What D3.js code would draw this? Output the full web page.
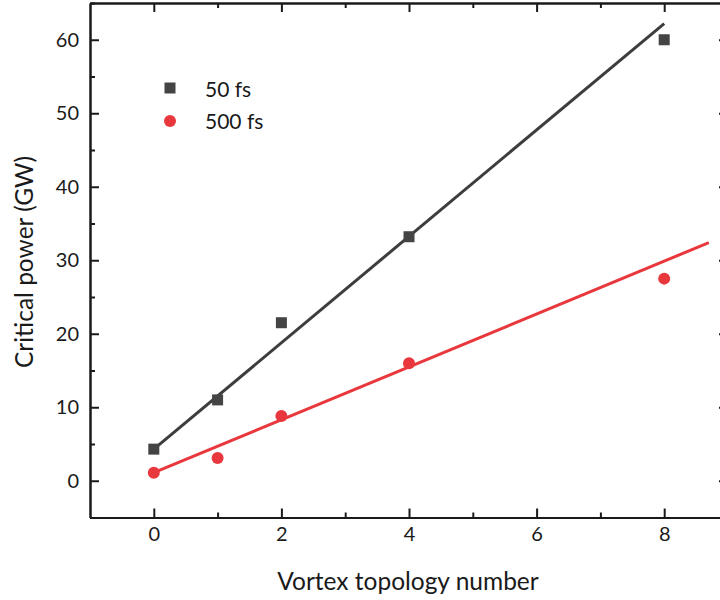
<!DOCTYPE html>
<html>
<head>
<meta charset="utf-8">
<script src="https://cdn.jsdelivr.net/npm/d3@7/dist/d3.min.js"></script>
<style>
  html, body { margin: 0; padding: 0; background: #fff; }
  svg { display: block; }
  text { font-family: Lato, "Noto Sans", sans-serif; fill: #1a1a1a; }
</style>
</head>
<body>
<svg id="chart" width="720" height="600"></svg>
<script>
// Vortex topological charge vs. critical power for two pulse durations
const topology = [0, 1, 2, 4, 8];
const power50fs = [4.3, 11.0, 21.5, 33.2, 60.0];
const power500fs = [1.1, 3.1, 8.8, 16.0, 27.5];

// Linear fit lines (start and end of each fitted segment)
const fit50X = [0, 8];
const fit50Y = [4.3, 62.2];
const fit500X = [0, 8.7];
const fit500Y = [1.1, 32.4];

const seriesNames = ["50 fs", "500 fs"];
const xTicks = [0, 2, 4, 6, 8];
const xMinorTicks = [1, 3, 5, 7];
const yTicks = [0, 10, 20, 30, 40, 50, 60];
const yMinorTicks = [-5, 5, 15, 25, 35, 45, 55, 65];

const colDark = "#444444";
const colRed = "#e8383d";

const svg = d3.select("#chart");
const plotLeft = 90, plotRight = 728, plotTop = 3, plotBottom = 517.5;

const x = d3.scaleLinear().domain([-1, 9]).range([plotLeft, plotRight]);
const y = d3.scaleLinear().domain([-5, 65]).range([plotBottom, plotTop]);

const axisStyle = g => {
  g.selectAll("path.domain").attr("stroke", "#1a1a1a").attr("stroke-width", 2);
  g.selectAll(".tick line").attr("stroke", "#1a1a1a").attr("stroke-width", 2);
  g.selectAll(".tick text").style("font-size", "20px").attr("fill", "#1a1a1a");
};

// Minor ticks (no labels)
svg.append("g").attr("transform", `translate(0,${plotBottom})`)
  .call(d3.axisBottom(x).tickValues(xMinorTicks).tickSize(-5).tickSizeOuter(0).tickFormat(""))
  .call(axisStyle);
svg.append("g").attr("transform", `translate(0,${plotTop})`)
  .call(d3.axisTop(x).tickValues(xMinorTicks).tickSize(-5).tickSizeOuter(0).tickFormat(""))
  .call(axisStyle);
svg.append("g").attr("transform", `translate(${plotLeft},0)`)
  .call(d3.axisLeft(y).tickValues(yMinorTicks).tickSize(-5).tickSizeOuter(0).tickFormat(""))
  .call(axisStyle);
svg.append("g").attr("transform", `translate(${plotRight},0)`)
  .call(d3.axisRight(y).tickValues(yMinorTicks).tickSize(-5).tickSizeOuter(0).tickFormat(""))
  .call(axisStyle);

// Major ticks
svg.append("g").attr("transform", `translate(0,${plotBottom})`)
  .call(d3.axisBottom(x).tickValues(xTicks).tickSize(-9).tickSizeOuter(0).tickPadding(9).tickFormat(d3.format("d")))
  .call(axisStyle);
svg.append("g").attr("transform", `translate(0,${plotTop})`)
  .call(d3.axisTop(x).tickValues(xTicks).tickSize(-9).tickSizeOuter(0).tickFormat(""))
  .call(axisStyle);
svg.append("g").attr("transform", `translate(${plotLeft},0)`)
  .call(d3.axisLeft(y).tickValues(yTicks).tickSize(-9).tickSizeOuter(0).tickPadding(11).tickFormat(d3.format("d")))
  .call(axisStyle);
svg.append("g").attr("transform", `translate(${plotRight},0)`)
  .call(d3.axisRight(y).tickValues(yTicks).tickSize(-9).tickSizeOuter(0).tickFormat(""))
  .call(axisStyle);

// Fit lines
const line = d3.line().x(d => x(d[0])).y(d => y(d[1]));
svg.append("path").datum(d3.zip(fit50X, fit50Y))
  .attr("d", line).attr("fill", "none").attr("stroke", "#3d3d3d").attr("stroke-width", 3);
svg.append("path").datum(d3.zip(fit500X, fit500Y))
  .attr("d", line).attr("fill", "none").attr("stroke", colRed).attr("stroke-width", 3);

// Data markers
const sq = 11;
svg.append("g").selectAll("rect").data(d3.zip(topology, power50fs)).join("rect")
  .attr("x", d => x(d[0]) - sq / 2).attr("y", d => y(d[1]) - sq / 2)
  .attr("width", sq).attr("height", sq).attr("fill", colDark);
svg.append("g").selectAll("circle").data(d3.zip(topology, power500fs)).join("circle")
  .attr("cx", d => x(d[0])).attr("cy", d => y(d[1])).attr("r", 6).attr("fill", colRed);

// Legend
const lg = svg.append("g");
lg.append("rect").attr("x", 170 - sq / 2).attr("y", 88 - sq / 2).attr("width", sq).attr("height", sq).attr("fill", colDark);
lg.append("circle").attr("cx", 170).attr("cy", 121).attr("r", 6).attr("fill", colRed);
lg.append("text").attr("x", 205).attr("y", 97).style("font-size", "21px").text(seriesNames[0]);
lg.append("text").attr("x", 205).attr("y", 129).style("font-size", "21px").text(seriesNames[1]);

// Axis titles
svg.append("text").attr("x", 408).attr("y", 590).attr("text-anchor", "middle")
  .style("font-size", "24.5px").text("Vortex topology number");
svg.append("text").attr("transform", "translate(33,262) rotate(-90)").attr("text-anchor", "middle")
  .style("font-size", "24.5px").text("Critical power (GW)");
</script>
</body>
</html>
